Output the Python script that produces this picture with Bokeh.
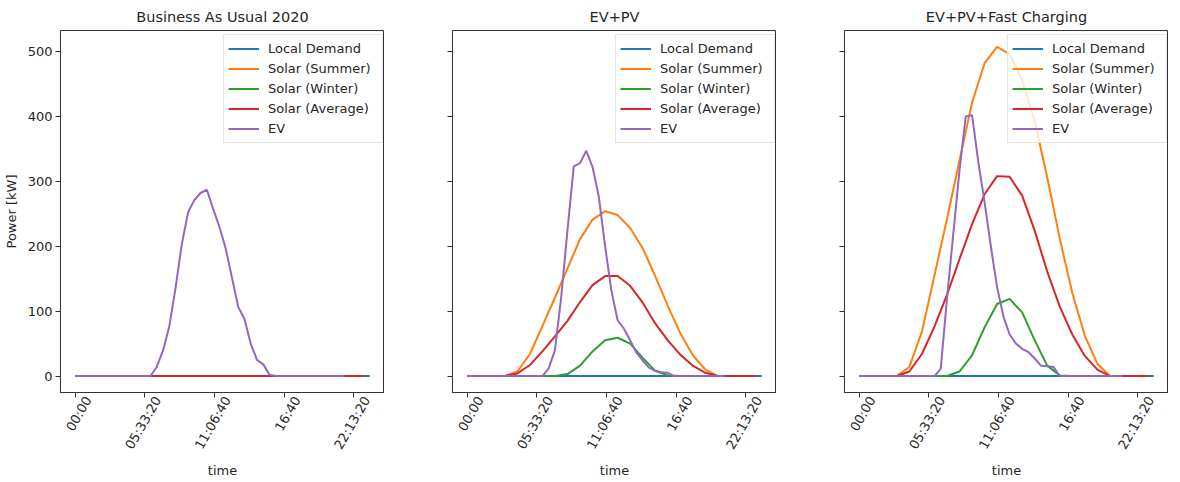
import math
from bokeh.plotting import figure
from bokeh.layouts import row
from bokeh.models import Range1d, FixedTicker, Legend, LegendItem, LinearAxis
from bokeh.embed import file_html
from bokeh.resources import INLINE

# ---------------- data ----------------
TIME_30MIN = [i * 1800 for i in range(48)]      # seconds since midnight, 00:00 .. 23:30
TIME_HOURLY = [h * 3600 for h in range(24)]     # seconds since midnight, 00:00 .. 23:00

X_TICKS = [0, 20000, 40000, 60000, 80000]
X_TICK_LABELS = ["00:00", "05:33:20", "11:06:40", "16:40", "22:13:20"]
Y_TICKS = [0, 100, 200, 300, 400, 500]

TITLES = ["Business As Usual 2020", "EV+PV", "EV+PV+Fast Charging"]
SERIES = ["Local Demand", "Solar (Summer)", "Solar (Winter)", "Solar (Average)", "EV"]
COLORS = ["#1f77b4", "#ff7f0e", "#2ca02c", "#d62728", "#9467bd"]

# local demand (kW), half-hourly
DEMAND = [0, 0, 0, 0, 0, 0, 0, 0, 0, 0, 0, 0, 0, 0, 0, 0, 0, 0, 0, 0, 0, 0, 0, 0,
          0, 0, 0, 0, 0, 0, 0, 0, 0, 0, 0, 0, 0, 0, 0, 0, 0, 0, 0, 0, 0, 0, 0, 0]

# solar (kW), hourly
BAU_SUMMER = [0, 0, 0, 0, 0, 0, 0, 0, 0, 0, 0, 0, 0, 0, 0, 0, 0, 0, 0, 0, 0, 0, 0, 0]
BAU_WINTER = [0, 0, 0, 0, 0, 0, 0, 0, 0, 0, 0, 0, 0, 0, 0, 0, 0, 0, 0, 0, 0, 0, 0, 0]
BAU_AVERAGE = [0, 0, 0, 0, 0, 0, 0, 0, 0, 0, 0, 0, 0, 0, 0, 0, 0, 0, 0, 0, 0, 0, 0, 0]

PV_SUMMER = [0, 0, 0, 0, 7, 34, 77, 121, 166, 211, 241, 254, 248, 228, 197, 154, 108, 66, 32, 10, 0, 0, 0, 0]
PV_WINTER = [0, 0, 0, 0, 0, 0, 0, 0, 3, 16, 38, 55, 59, 50, 28, 8, 1, 0, 0, 0, 0, 0, 0, 0]
PV_AVERAGE = [0, 0, 0, 0, 4, 17, 38, 61, 85, 114, 140, 154, 154, 139, 113, 81, 55, 33, 16, 5, 0, 0, 0, 0]

FC_SUMMER = [0, 0, 0, 0, 14, 68, 155, 242, 332, 421, 482, 507, 496, 456, 393, 306, 212, 128, 62, 19, 0, 0, 0, 0]
FC_WINTER = [0, 0, 0, 0, 0, 0, 0, 0, 7, 32, 75, 111, 119, 98, 55, 16, 1, 0, 0, 0, 0, 0, 0, 0]
FC_AVERAGE = [0, 0, 0, 0, 7, 34, 76, 125, 180, 234, 280, 308, 307, 278, 224, 161, 107, 64, 31, 10, 0, 0, 0, 0]

# EV charging (kW), half-hourly
BAU_EV = [0, 0, 0, 0, 0, 0, 0, 0, 0, 0, 0, 0, 0, 14, 39, 76, 135, 203, 252, 271, 282, 287, 258, 230,
          197, 152, 107, 88, 50, 25, 18, 2, 0, 0, 0, 0, 0, 0, 0, 0, 0, 0, 0, 0]
PV_EV = [0, 0, 0, 0, 0, 0, 0, 0, 0, 0, 0, 0, 0, 12, 40, 122, 225, 323, 328, 347, 322, 276, 200, 132,
         86, 73, 55, 36, 24, 13, 8, 6, 5, 0, 0, 0, 0, 0, 0, 0, 0, 0]
FC_EV = [0, 0, 0, 0, 0, 0, 0, 0, 0, 0, 0, 0, 0, 11, 119, 218, 317, 400, 402, 330, 268, 200, 137, 92,
         64, 50, 42, 37, 27, 16, 15, 14, 0, 0, 0, 0, 0, 0, 0, 0, 0, 0, 0]

PANELS = [
    (BAU_SUMMER, BAU_WINTER, BAU_AVERAGE, BAU_EV),
    (PV_SUMMER, PV_WINTER, PV_AVERAGE, PV_EV),
    (FC_SUMMER, FC_WINTER, FC_AVERAGE, FC_EV),
]

# ---------------- styling ----------------
FONT = "DejaVu Sans"
TEXT = "#262626"
FRAME_W = 324
FRAME_H = 362
X_START, X_END = -4230, 88830
LABEL_SHIFT = 13 * (X_END - X_START) / FRAME_W   # centre rotated tick labels on their ticks
LEGEND_W, LEGEND_H = 158, 107


def style_axis(ax):
    ax.axis_line_color = "#333333"
    ax.major_tick_line_color = "#333333"
    ax.minor_tick_line_color = None
    ax.major_tick_out = 5
    ax.major_tick_in = 0
    ax.major_label_standoff = 3
    ax.major_label_text_font = FONT
    ax.major_label_text_font_size = "13px"
    ax.major_label_text_color = TEXT
    ax.axis_label_text_font = FONT
    ax.axis_label_text_font_size = "13px"
    ax.axis_label_text_font_style = "normal"
    ax.axis_label_text_color = TEXT


def make_panel(i, title, summer, winter, average, ev):
    left = 55 if i == 0 else 68
    p = figure(frame_width=FRAME_W, frame_height=FRAME_H,
               output_backend="svg", toolbar_location=None,
               x_range=Range1d(X_START, X_END), y_range=Range1d(-25.35, 532.35),
               min_border_left=left, min_border_right=0,
               min_border_top=30, min_border_bottom=0,
               title=title)
    p.title.text_font = FONT
    p.title.text_font_size = "14.5px"
    p.title.text_font_style = "normal"
    p.title.text_color = TEXT
    p.title.align = "center"
    p.title.standoff = 12
    p.grid.visible = False
    p.outline_line_color = "#333333"
    p.outline_line_width = 1
    p.background_fill_color = "white"
    p.border_fill_color = "white"

    xs = [TIME_30MIN, TIME_HOURLY, TIME_HOURLY, TIME_HOURLY, TIME_30MIN[:len(ev)]]
    ys = [DEMAND, summer, winter, average, ev]
    items = []
    for name, color, x, y in zip(SERIES, COLORS, xs, ys):
        r = p.line(x, y, line_color=color, line_width=2)
        items.append(LegendItem(label=name, renderers=[r]))

    legend = Legend(items=items,
                    location=(FRAME_W - 3 - LEGEND_W, FRAME_H - 6 - LEGEND_H))
    legend.label_text_font = FONT
    legend.label_text_font_size = "13px"
    legend.label_text_color = TEXT
    legend.border_line_color = "#cccccc"
    legend.border_line_width = 1
    legend.background_fill_alpha = 0.8
    legend.padding = 4
    legend.spacing = 1
    legend.margin = 0
    legend.label_height = 19
    legend.glyph_height = 19
    legend.glyph_width = 31
    legend.label_standoff = 9
    legend.label_width = 110
    p.add_layout(legend)

    # main x axis: ticks only
    xa = p.xaxis[0]
    style_axis(xa)
    xa.ticker = FixedTicker(ticks=X_TICKS)
    xa.major_label_overrides = {t: "" for t in X_TICKS}
    xa.major_label_standoff = 0

    # label axis: rotated labels centred on the ticks, plus the axis title
    p.extra_x_ranges = {"labels": Range1d(X_START - LABEL_SHIFT, X_END - LABEL_SHIFT)}
    la = LinearAxis(x_range_name="labels")
    style_axis(la)
    la.ticker = FixedTicker(ticks=X_TICKS)
    la.major_label_overrides = {t: s for t, s in zip(X_TICKS, X_TICK_LABELS)}
    la.major_label_orientation = math.pi / 3
    la.axis_line_color = None
    la.major_tick_line_color = None
    la.major_tick_out = 0
    la.major_label_standoff = 0
    la.axis_label = "time"
    la.axis_label_standoff = 4
    p.add_layout(la, "below")

    ya = p.yaxis[0]
    style_axis(ya)
    ya.ticker = FixedTicker(ticks=Y_TICKS)
    if i == 0:
        ya.axis_label = "Power [kW]"
        ya.axis_label_standoff = 6
    else:
        ya.major_label_overrides = {t: "" for t in Y_TICKS}
    return p


figs = [make_panel(i, TITLES[i], *PANELS[i]) for i in range(3)]
layout = row(*figs)

open("out.html", "w").write(file_html(layout, INLINE))
